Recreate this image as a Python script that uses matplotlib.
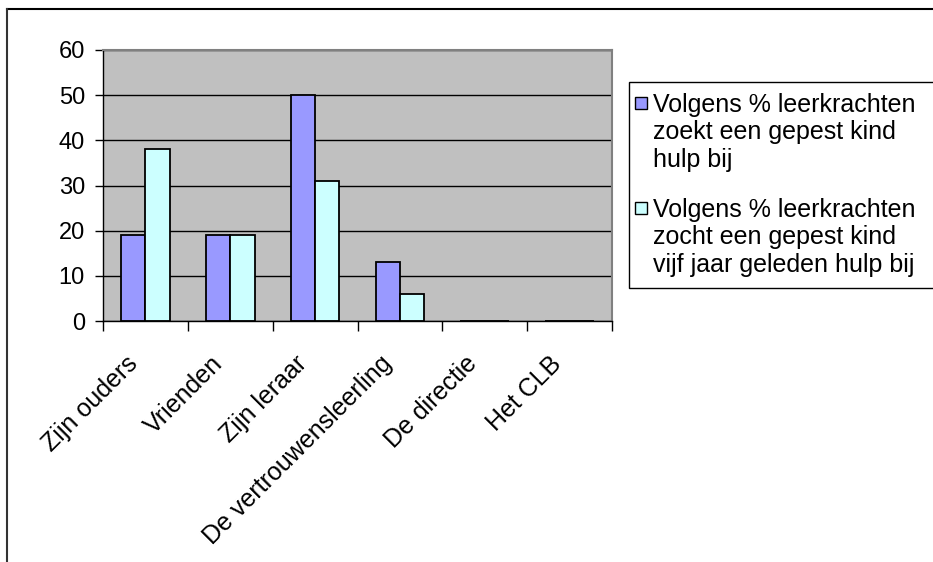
import numpy as np
import matplotlib.pyplot as plt
from matplotlib.patches import Rectangle
from matplotlib.lines import Line2D
from matplotlib.transforms import ScaledTranslation

plt.rcParams['font.family'] = ['Liberation Sans', 'DejaVu Sans']

categories = ['Zijn ouders', 'Vrienden', 'Zijn leraar', 'De vertrouwensleerling',
              'De directie', 'Het CLB']
nu = [19, 19, 50, 13, 0, 0]
vroeger = [38, 19, 31, 6, 0, 0]
labels = ['Volgens % leerkrachten\nzoekt een gepest kind\nhulp bij',
          'Volgens % leerkrachten\nzocht een gepest kind\nvijf jaar geleden hulp bij']
colors = ['#9999FF', '#CCFFFF']

W, H = 933, 562
fig = plt.figure(figsize=(W / 100, H / 100), dpi=100)
ax = fig.add_axes([103 / W, 1 - 321 / H, (612 - 103) / W, (321 - 50) / H])
ax.set_facecolor('#C0C0C0')

x = np.arange(len(categories))
w = 0.286
ax.bar(x - w / 2, nu, w, color=colors[0], edgecolor='black', linewidth=1.3, zorder=3)
ax.bar(x + w / 2, vroeger, w, color=colors[1], edgecolor='black', linewidth=1.3, zorder=3)

ax.set_xlim(-0.5, len(categories) - 0.5)
ax.set_ylim(0, 60)
ax.set_yticks(range(0, 61, 10))
ax.yaxis.grid(True, color='black', linewidth=1)
ax.set_axisbelow(True)
ax.tick_params(axis='y', labelsize=17, length=6, width=1, pad=7, direction='out')

ax.set_xticks(x)
ax.set_xticklabels(categories, rotation=45, ha='right', va='top',
                   rotation_mode='anchor', fontsize=18)
ax.set_xticks(np.arange(-0.5, len(categories)), minor=True)
ax.tick_params(axis='x', which='major', length=0, pad=22)
ax.tick_params(axis='x', which='minor', length=7, width=1, direction='out')
shift = ScaledTranslation(-20 / 100, 0, fig.dpi_scale_trans)
for lab in ax.get_xticklabels():
    lab.set_transform(lab.get_transform() + shift)

for s in ['top', 'right']:
    ax.spines[s].set_color('#808080')
    ax.spines[s].set_linewidth(1.5)
for s in ['left', 'bottom']:
    ax.spines[s].set_color('black')
    ax.spines[s].set_linewidth(1)
ax.spines['bottom'].set_zorder(4)

# chart frame (cut off at right and bottom)
fig.add_artist(Line2D([7 / W, 1], [1 - 9 / H, 1 - 9 / H], color='black', linewidth=1.5))
fig.add_artist(Line2D([7 / W, 7 / W], [0, 1 - 9 / H], color='#333333', linewidth=1.5))

# legend box
fig.add_artist(Rectangle((629 / W, 1 - 288 / H), (940 - 629) / W, (288 - 82) / H,
                         transform=fig.transFigure, facecolor='white',
                         edgecolor='black', linewidth=1))
baselines = [112, 217]
for lab, col, b in zip(labels, colors, baselines):
    fig.add_artist(Rectangle((635 / W, 1 - (b - 3) / H), 12 / W, 12 / H,
                             transform=fig.transFigure, facecolor=col,
                             edgecolor='black', linewidth=1))
    fig.text(653 / W, 1 - (b - 19) / H, lab, fontsize=18, va='top', ha='left',
             linespacing=1.18)

fig.savefig('out.png', dpi=100)
